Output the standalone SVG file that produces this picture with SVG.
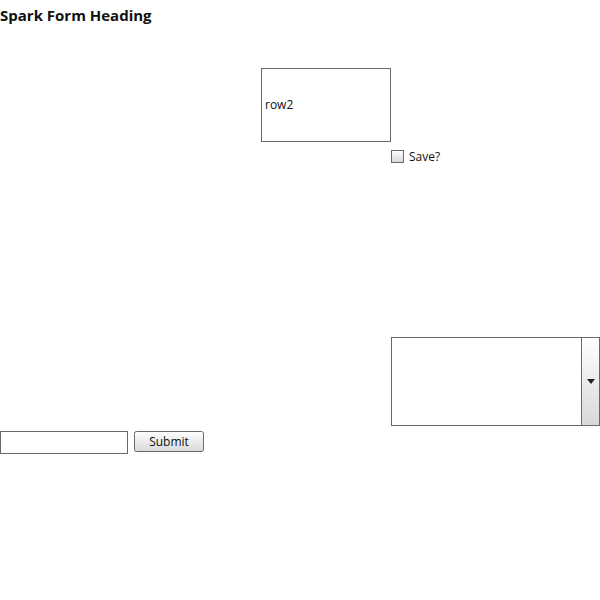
<svg xmlns="http://www.w3.org/2000/svg" width="600" height="600" viewBox="0 0 600 600">
<defs>
<linearGradient id="btn" x1="0" y1="0" x2="0" y2="1">
<stop offset="0" stop-color="#ffffff"/>
<stop offset="1" stop-color="#d8d8d8"/>
</linearGradient>
<linearGradient id="cb" x1="0" y1="0" x2="0" y2="1">
<stop offset="0" stop-color="#ffffff"/>
<stop offset="1" stop-color="#d6d6d6"/>
</linearGradient>
</defs>
<style>
text{font-family:"Open Sans","Noto Sans","DejaVu Sans",sans-serif;fill:#111}
.box{fill:#fff;stroke:#696969;stroke-width:1}
.lbl{font-size:12px}
</style>
<rect width="600" height="600" fill="#fff"/>
<g id="heading">
<text x="0" y="21" font-size="15" font-weight="bold">Spark Form Heading</text>
</g>
<g id="textarea">
<rect class="box" x="261.5" y="68.5" width="129" height="73"/>
<text class="lbl" x="265" y="109">row2</text>
</g>
<g id="checkbox">
<rect x="391.5" y="150.5" width="12" height="12" fill="url(#cb)" stroke="#696969"/>
<text class="lbl" x="409" y="161">Save?</text>
</g>
<g id="dropdown">
<rect class="box" x="391.5" y="337.5" width="208" height="88"/>
<rect x="581.5" y="337.5" width="18" height="88" fill="url(#btn)" stroke="#696969"/>
<path d="M587 379 L595 379 L591 384 Z" fill="#222"/>
</g>
<g id="textinput">
<rect class="box" x="0.5" y="431.5" width="127" height="22"/>
</g>
<g id="submit">
<rect x="134.5" y="431.5" width="69" height="20" rx="2" fill="url(#btn)" stroke="#696969"/>
<text class="lbl" x="169" y="446" text-anchor="middle">Submit</text>
</g>
<g id="connectors"></g>
</svg>
